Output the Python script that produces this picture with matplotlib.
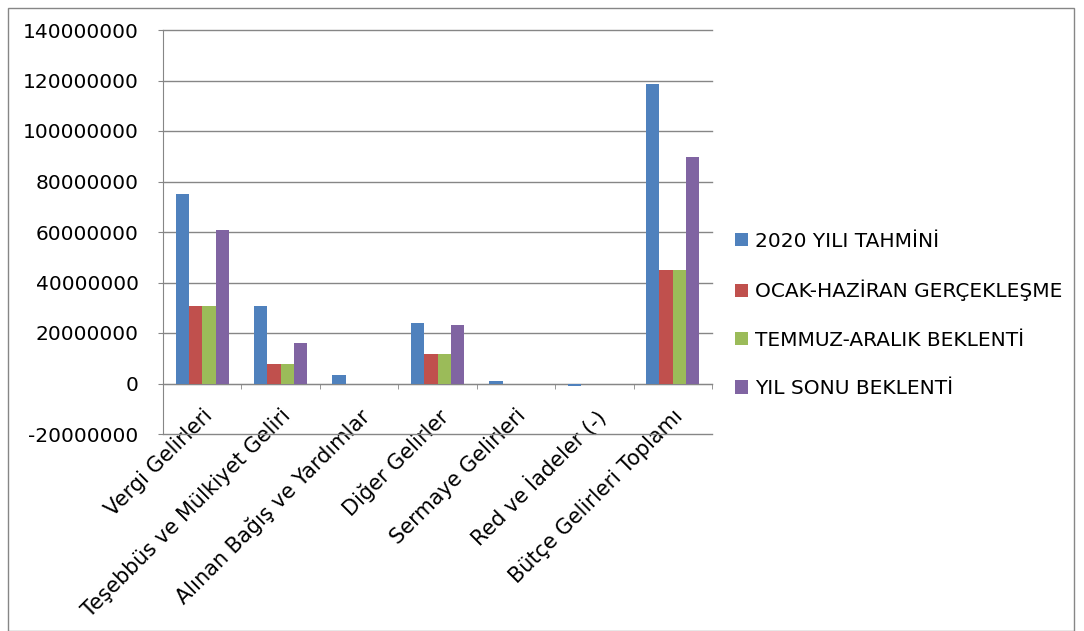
import matplotlib.pyplot as plt
import numpy as np
from matplotlib.patches import Rectangle
from matplotlib.ticker import FixedLocator

plt.rcParams['font.family'] = ['DejaVu Sans']

categories = ['Vergi Gelirleri', 'Teşebbüs ve Mülkiyet Geliri', 'Alınan Bağış ve Yardımlar',
              'Diğer Gelirler', 'Sermaye Gelirleri', 'Red ve İadeler (-)', 'Bütçe Gelirleri Toplamı']
series_names = ['2020 YILI TAHMİNİ', 'OCAK-HAZİRAN GERÇEKLEŞME', 'TEMMUZ-ARALIK BEKLENTİ', 'YIL SONU BEKLENTİ']
tahmin = [75000000, 30500000, 3200000, 23900000, 1000000, -800000, 118500000]
ocak_haziran = [30500000, 7900000, 0, 11500000, 0, -300000, 44800000]
temmuz_aralik = [30500000, 7900000, 0, 11500000, 0, -300000, 44800000]
yil_sonu = [60600000, 16200000, 0, 23000000, 0, -300000, 89900000]
colors = ['#4F81BD', '#C0504D', '#9BBB59', '#8064A2']

fig = plt.figure(figsize=(10.84, 6.31), dpi=100)
ax = fig.add_axes([163/1084, 1-434/631, (712-163)/1084, (434-30)/631])

x = np.arange(len(categories))
w = 0.17
all_series = [tahmin, ocak_haziran, temmuz_aralik, yil_sonu]
for i, (vals, name, c) in enumerate(zip(all_series, series_names, colors)):
    ax.bar(x + (i - 1.5) * w, vals, w, color=c, label=name, zorder=3)

ax.set_xlim(-0.5, len(categories) - 0.5)
ax.set_ylim(-20000000, 140000000)
ax.set_yticks(np.arange(-20000000, 140000001, 20000000))
ax.set_yticklabels([str(v) for v in range(-20000000, 140000001, 20000000)], fontsize=14.5)
ax.yaxis.grid(True, color='#868686', linewidth=1, zorder=0)
for gl in ax.get_ygridlines():
    gl.set_clip_on(False)
ax.tick_params(axis='y', length=3.6, color='#868686', pad=14)

ax.spines['top'].set_visible(False)
ax.spines['right'].set_visible(False)
ax.spines['left'].set_color('#868686')
ax.spines['bottom'].set_color('#868686')
ax.spines['bottom'].set_position(('data', 0))

ax.set_xticks(x)
ax.set_xticklabels(categories, rotation=45, ha='right', rotation_mode='anchor', fontsize=15)
ax.tick_params(axis='x', which='major', length=0, pad=16)
ax.xaxis.set_minor_locator(FixedLocator(np.arange(-0.5, len(categories), 1)))
ax.tick_params(axis='x', which='minor', length=3.6, color='#868686', direction='out')

ax.legend(loc='center left', bbox_to_anchor=(1.009, 0.295), frameon=False, fontsize=14.5,
          handlelength=0.65, handleheight=0.65, handletextpad=0.35, labelspacing=1.45)

fig.patches.append(Rectangle((8/1084, 0), (1074-8)/1084, 1-8/631, transform=fig.transFigure,
                             fill=False, edgecolor='#868686', linewidth=1))

fig.savefig('out.png', dpi=100)
